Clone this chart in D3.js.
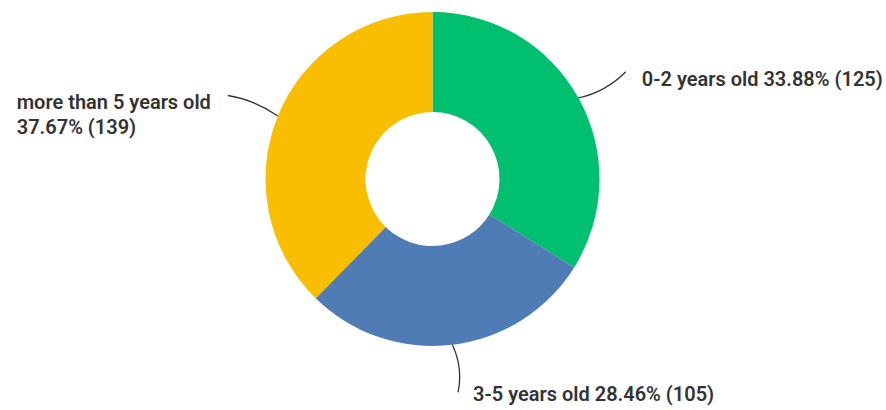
<!DOCTYPE html>
<html>
<head>
<meta charset="utf-8">
<script src="https://cdn.jsdelivr.net/npm/d3@7"></script>
<style>
  html, body { margin: 0; padding: 0; background: #fff; }
  svg { display: block; }
  .lbl { font-family: Roboto, "Noto Sans", sans-serif; font-weight: 600; font-size: 20px; fill: #333; }
</style>
</head>
<body>
<svg id="chart" width="886" height="410"></svg>
<script>
// Age groups and response counts
const categories = ["0-2 years old", "3-5 years old", "more than 5 years old"];
const counts = [125, 105, 139];
const percents = ["33.88%", "28.46%", "37.67%"];
const colors = ["#00BF6F", "#507CB6", "#F9BE00"];

const svg = d3.select("#chart");
const cx = 432.5, cy = 179, outerR = 167, innerR = 67;

const pie = d3.pie().sort(null).value(d => d.count);
const data = categories.map((c, i) => ({ name: c, count: counts[i], pct: percents[i], color: colors[i] }));
const arcs = pie(data);

const arc = d3.arc().innerRadius(innerR).outerRadius(outerR);
const g = svg.append("g").attr("transform", `translate(${cx},${cy})`);

g.selectAll("path.slice")
  .data(arcs)
  .enter().append("path")
  .attr("class", "slice")
  .attr("d", arc)
  .attr("fill", d => d.data.color);

// polar helper: angle measured clockwise from 12 o'clock
const polar = (a, r) => [r * Math.sin(a), -r * Math.cos(a)];

// Label placement for each slice: where the leader ends and how text is set
const layout = [
  { endR: 221, bend: 8, lines: d => [`${d.name} ${d.pct} (${d.count})`], anchor: "start", dx: 16, dy: 14 },
  { endR: 215, bend: -8, lines: d => [`${d.name} ${d.pct} (${d.count})`], anchor: "start", dx: 15, dy: 9 },
  { endR: 221, bend: 6, lines: d => [d.name, `${d.pct} (${d.count})`], anchor: "end", dx: -17, dy: 13 }
];

arcs.forEach((d, i) => {
  const mid = (d.startAngle + d.endAngle) / 2;
  const L = layout[i];
  const p0 = polar(mid, outerR);
  const p1 = polar(mid, L.endR);
  // control point: midway, pushed perpendicular to the radial direction
  const m = polar(mid, (outerR + L.endR) / 2);
  const perp = [Math.cos(mid), Math.sin(mid)];
  const c = [m[0] + perp[0] * L.bend, m[1] + perp[1] * L.bend];
  const path = d3.path();
  path.moveTo(p0[0], p0[1]);
  path.quadraticCurveTo(c[0], c[1], p1[0], p1[1]);
  g.append("path")
    .attr("d", path.toString())
    .attr("fill", "none")
    .attr("stroke", "#333")
    .attr("stroke-width", 1.3);

  const t = g.append("text")
    .attr("class", "lbl")
    .attr("y", p1[1] + L.dy);
  const tspans = L.lines(d.data).map((s, k) =>
    t.append("tspan").attr("dy", k === 0 ? 0 : 25).text(s));
  // multi-line labels are left-aligned as a block that ends near the leader
  const blockW = d3.max(tspans, s => s.node().getComputedTextLength());
  const x0 = L.anchor === "end" ? p1[0] + L.dx - blockW : p1[0] + L.dx;
  tspans.forEach(s => s.attr("x", x0));
});
</script>
</body>
</html>
